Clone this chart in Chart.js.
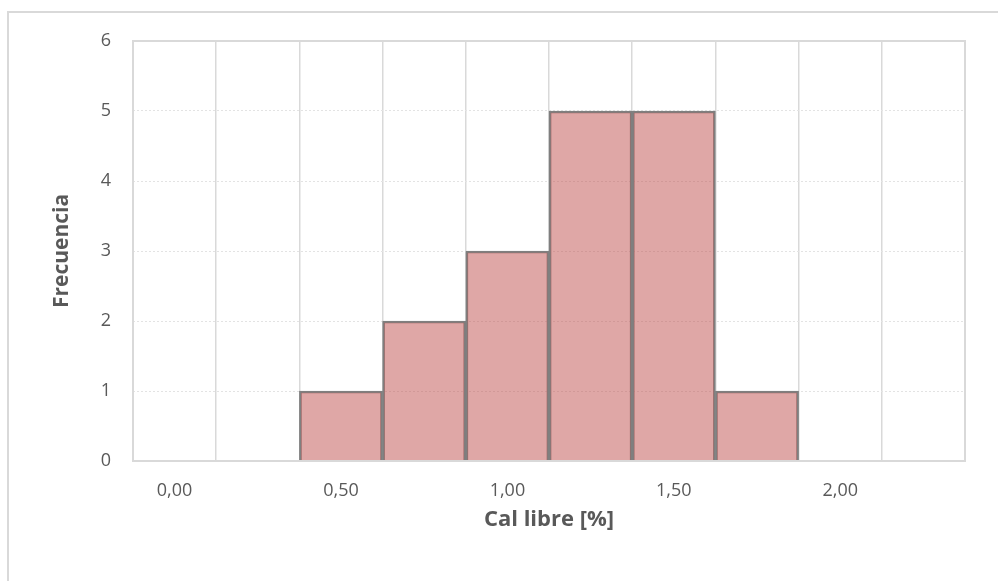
<!DOCTYPE html>
<html>
<head>
<meta charset="utf-8">
<script src="https://cdn.jsdelivr.net/npm/chart.js@4"></script>
<style>
  html, body { margin: 0; padding: 0; background: #fff; }
  #frame { position: absolute; left: 7px; top: 11px; width: 1100px; height: 700px; border: 2px solid #d9d9d9; }
  #wrap { position: absolute; left: 0; top: 0; width: 998px; height: 581px; }
</style>
</head>
<body>
<div id="frame"></div>
<div id="wrap"><canvas id="histo"></canvas></div>
<script>
// bin centres (Cal libre %) and counts
const bins = [0.00, 0.25, 0.50, 0.75, 1.00, 1.25, 1.50, 1.75, 2.00, 2.25];
const counts = [0, 0, 1, 2, 3, 5, 5, 1, 0, 0];
const yTicks = [0, 1, 2, 3, 4, 5, 6];

const textColor = '#595959';
const fontName = "'Open Sans', 'Liberation Sans', sans-serif";

// solid frame around the plot area
const plotFrame = {
  id: 'plotFrame',
  afterDatasetsDraw(chart) {
    const a = chart.chartArea, ctx = chart.ctx;
    ctx.save();
    ctx.strokeStyle = '#d9d9d9';
    ctx.lineWidth = 2;
    ctx.strokeRect(a.left, a.top, a.right - a.left, a.bottom - a.top);
    ctx.restore();
  }
};

const data = {
  labels: bins.map(b => b.toFixed(2).replace('.', ',')),
  datasets: [{
    data: counts,
    backgroundColor: 'rgba(192, 80, 77, 0.5)',
    borderColor: '#7f7f7f',
    borderWidth: 2,
    barPercentage: 1,
    categoryPercentage: 1
  }]
};

const config = {
  type: 'bar',
  data: data,
  plugins: [plotFrame],
  options: {
    responsive: false,
    animation: false,
    layout: { padding: { left: 0, top: 41, right: 33, bottom: 0 } },
    plugins: {
      legend: { display: false },
      tooltip: { enabled: false }
    },
    scales: {
      x: {
        offset: true,
        grid: { offset: true, color: '#d9d9d9', lineWidth: 1.5, drawTicks: false },
        border: { display: false },
        ticks: {
          color: textColor,
          font: { family: fontName, size: 18 },
          padding: 19,
          maxRotation: 0,
          autoSkip: false,
          callback: function (v, i) { return i % 2 === 0 ? this.getLabelForValue(v) : ''; }
        },
        title: {
          display: true,
          text: 'Cal libre [%]',
          color: textColor,
          font: { family: fontName, size: 22, weight: 'bold' },
          padding: { top: 0, bottom: 48 }
        },
        afterFit: s => { s.height = 120; }
      },
      y: {
        min: 0,
        max: 6,
        afterBuildTicks: s => { s.ticks = yTicks.map(v => ({ value: v })); },
        grid: { color: '#e3e3e3', lineWidth: 1, drawTicks: false },
        border: { display: false, dash: [2, 2] },
        ticks: {
          color: textColor,
          font: { family: fontName, size: 18 },
          padding: 22
        },
        title: {
          display: true,
          text: 'Frecuencia',
          color: textColor,
          font: { family: fontName, size: 21, weight: 'bold' },
          padding: { top: 49, bottom: 0 }
        },
        afterFit: s => { s.width = 133; }
      }
    }
  }
};

const canvas = document.getElementById('histo');
canvas.width = 998;
canvas.height = 581;
new Chart(canvas, config);
</script>
</body>
</html>
